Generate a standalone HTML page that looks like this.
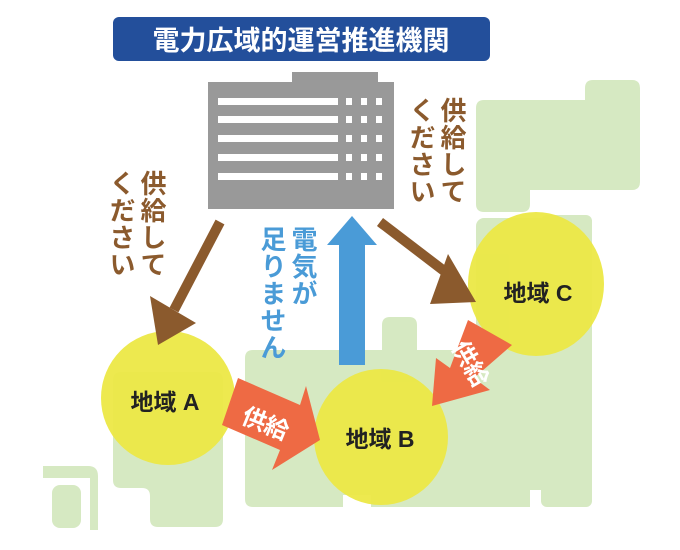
<!DOCTYPE html>
<html><head><meta charset="utf-8"><style>
body{margin:0;background:#fff;width:680px;height:550px;overflow:hidden;position:relative;font-family:"Liberation Sans","Noto Sans CJK JP",sans-serif}
.v{position:absolute;writing-mode:vertical-rl;font-size:26px;line-height:31px;letter-spacing:1px;font-weight:bold}
.lab{font-family:"Liberation Sans","Noto Sans CJK JP",sans-serif;font-weight:bold;font-size:23px;fill:#222}
</style></head><body>
<svg width="680" height="550" style="position:absolute;left:0;top:0">
<g fill="#d6e9c2">
<path d="M476 108 Q476 100 484 100 L585 100 L585 88 Q585 80 593 80 L632 80 Q640 80 640 88 L640 182 Q640 190 632 190 L530 190 L530 204 Q530 212 522 212 L484 212 Q476 212 476 204 Z"/>
<rect x="476" y="218" width="116" height="135" rx="8"/>
<rect x="541" y="215" width="51" height="292" rx="6"/>
<path d="M245 358 Q245 350 253 350 L382 350 L382 325 Q382 317 390 317 L409 317 Q417 317 417 325 L417 350 L592 350 L592 499 Q592 507 584 507 L565 507 L565 490 L530 490 L530 507 L371 507 L371 495 L343 495 L343 507 L253 507 Q245 507 245 499 Z"/>
<path d="M121 372 L215 372 Q223 372 223 380 L223 519 Q223 527 215 527 L158 527 Q150 527 150 519 L150 496 Q150 488 142 488 L121 488 Q113 488 113 480 L113 380 Q113 372 121 372 Z"/>
<path d="M43 466 L88 466 Q98 466 98 476 L98 530 L90 530 L90 478 L43 478 Z"/>
<rect x="52" y="485" width="29" height="43" rx="8"/>
</g>
<rect x="113" y="17" width="377" height="44" rx="6" fill="#234f9b"/>
<text x="301" y="50" text-anchor="middle" fill="#fff" font-size="27" font-family="Liberation Sans,Noto Sans CJK JP,sans-serif" font-weight="bold">電力広域的運営推進機関</text>
<rect x="292" y="72" width="86" height="12" fill="#999"/>
<rect x="208" y="82" width="186" height="127" fill="#999"/>
<g fill="#fff">
<rect x="218" y="98" width="120" height="7"/><rect x="218" y="116" width="120" height="7"/><rect x="218" y="135" width="120" height="7"/><rect x="218" y="154" width="120" height="7"/><rect x="218" y="173" width="120" height="7"/>
<g id="d"><rect x="346" y="98" width="6" height="7"/><rect x="361" y="98" width="6" height="7"/><rect x="376" y="98" width="6" height="7"/></g>
<use href="#d" y="18"/><use href="#d" y="37"/><use href="#d" y="56"/><use href="#d" y="75"/>
</g>
<g fill="#ece846" opacity="0.95">
<ellipse cx="168" cy="398" rx="67" ry="67"/>
<ellipse cx="381" cy="437" rx="67" ry="68"/>
<ellipse cx="536" cy="284" rx="68" ry="72"/>
</g>
<g stroke="#8b5a2d" stroke-width="10" fill="#8b5a2d">
<line x1="220" y1="222" x2="174" y2="310"/>
<line x1="380" y1="222" x2="452" y2="277"/>
</g>
<polygon points="150,296 196,323 158,345" fill="#8b5a2d"/>
<polygon points="448,254 476,302 430,304" fill="#8b5a2d"/>
<rect x="339" y="243" width="26" height="122" fill="#4a9bd7"/>
<polygon points="352,216 377,245 327,245" fill="#4a9bd7"/>
<polygon points="238,378 300,405 306,386 320,440 272,470 280,450 222,425" fill="#ee6a44"/>
<polygon points="468,320 512,345 474,378 490,390 432,406 436,358 450,368" fill="#ee6a44"/>
<text x="265" y="432" transform="rotate(22 265 425)" text-anchor="middle" fill="#fff" font-size="24" font-weight="bold">供給</text>
<text x="470" y="372" transform="rotate(60 470 364)" text-anchor="middle" fill="#fff" font-size="24" font-weight="bold">供給</text>
<text class="lab" x="165" y="410" text-anchor="middle">地域 A</text>
<text class="lab" x="380" y="447" text-anchor="middle">地域 B</text>
<text class="lab" x="538" y="301" text-anchor="middle">地域 C</text>
</svg>
<div class="v" style="left:105px;top:170px;color:#8b5a2d">供給して<br>ください</div>
<div class="v" style="left:405px;top:97px;color:#8b5a2d">供給して<br>ください</div>
<div class="v" style="left:256px;top:226px;color:#4a9bd7">電気が<br>足りません</div>
</body></html>
